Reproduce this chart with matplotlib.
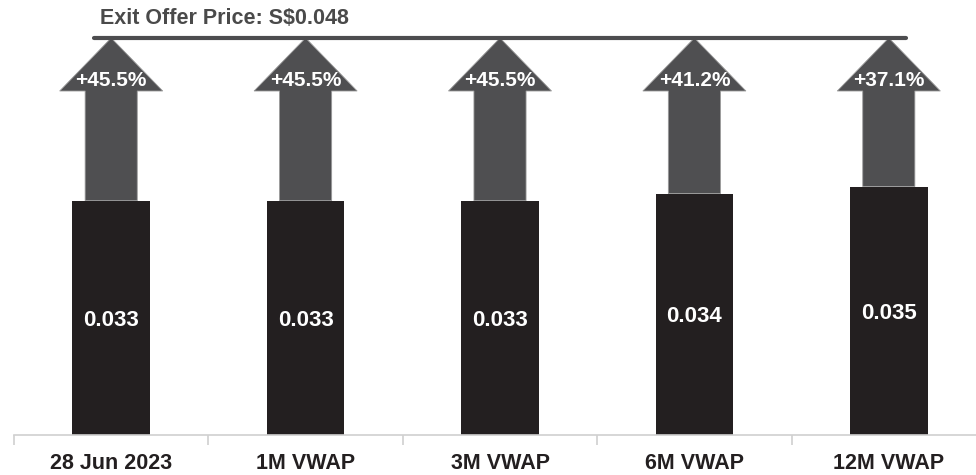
import matplotlib
matplotlib.use("Agg")
import matplotlib.pyplot as plt
from matplotlib.patches import Polygon

plt.rcParams['font.family'] = ['Liberation Sans', 'DejaVu Sans']

categories = ["28 Jun 2023", "1M VWAP", "3M VWAP", "6M VWAP", "12M VWAP"]
prices = [0.033, 0.033, 0.033, 0.034, 0.035]
premiums = ["+45.5%", "+45.5%", "+45.5%", "+41.2%", "+37.1%"]
offer_label = "Exit Offer Price: S$0.048"

BAR_COLOR = "#231f20"
ARROW_COLOR = "#4f4f51"
LINE_COLOR = "#4d4d4f"

fig = plt.figure(figsize=(9.76, 4.75), dpi=100)
ax = fig.add_axes([14 / 976, 40 / 475, 972 / 976, 435 / 475])

ymax = 0.06127
ax.set_ylim(0, ymax)
ax.set_xlim(-0.5, len(categories) - 0.5)

x = list(range(len(categories)))
ax.bar(x, prices, width=0.40, color=BAR_COLOR, zorder=2)

# offer price line and arrows (decorative, placed relative to axes height)
line_y = ymax * (1 - 38 / 435)
head_len = ymax * 53 / 435
head_w = 0.53
shaft_w = 0.268

for xi, p, pct in zip(x, prices, premiums):
    base = line_y - head_len
    pts = [
        (xi - shaft_w / 2, p),
        (xi - shaft_w / 2, base),
        (xi - head_w / 2, base),
        (xi, line_y),
        (xi + head_w / 2, base),
        (xi + shaft_w / 2, base),
        (xi + shaft_w / 2, p),
    ]
    ax.add_patch(Polygon(pts, closed=True, facecolor=ARROW_COLOR,
                         edgecolor="#9a9a9a", linewidth=0.6, zorder=1))
    ax.text(xi, ymax * (1 - 80 / 435), pct, ha="center", va="center",
            color="white", fontsize=15, fontweight="bold", zorder=4)
    ax.text(xi, p / 2, f"{p:.3f}", ha="center", va="center_baseline",
            color="white", fontsize=16, fontweight="bold", zorder=4)

ax.plot([-0.088, 4.09], [line_y, line_y], color=LINE_COLOR, linewidth=3.0,
        solid_capstyle="round", zorder=3)

fig.text(100 / 976, 1 - 18 / 475, offer_label, ha="left", va="center",
         color="#4a4a4a", fontsize=15.5, fontweight="bold")

# axes styling
for s in ["top", "right", "left"]:
    ax.spines[s].set_visible(False)
ax.spines["bottom"].set_color("#d0d0d0")
ax.spines["bottom"].set_linewidth(1.2)
ax.set_yticks([])
ax.set_xticks(x)
ax.set_xticklabels(categories, fontsize=15.5, fontweight="bold", color="#231f20")
ax.tick_params(axis="x", which="major", length=0, pad=13)
ax.set_xticks([i - 0.5 for i in range(len(categories) + 1)], minor=True)
ax.tick_params(axis="x", which="minor", length=7, color="#d0d0d0", width=1.2)

fig.savefig("out.png", dpi=100)
